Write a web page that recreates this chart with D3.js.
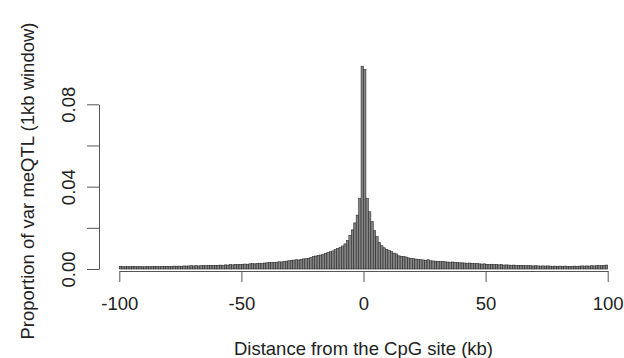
<!DOCTYPE html>
<html>
<head>
<meta charset="utf-8">
<script src="https://cdn.jsdelivr.net/npm/d3@7"></script>
<style>
  html, body { margin: 0; padding: 0; background: #fff; }
  svg { display: block; }
  text { font-family: "Liberation Sans", Arial, sans-serif; fill: #222; }
</style>
</head>
<body>
<svg id="chart" width="624" height="358"></svg>
<script>
// 1kb windows: left edges from -100 kb to +99 kb
const binStarts = d3.range(-100, 100);

// Proportion of var meQTL per window, upstream side (-100 .. -1)
const upstream = [
  0.0013, 0.0012, 0.0011, 0.0012, 0.0011, 0.0012, 0.0013, 0.0011, 0.0012, 0.0011,
  0.0011, 0.0012, 0.0011, 0.0012, 0.0013, 0.0012, 0.0011, 0.0013, 0.0012, 0.0013,
  0.0012, 0.0013, 0.0014, 0.0013, 0.0014, 0.0013, 0.0015, 0.0014, 0.0015, 0.0016,
  0.0015, 0.0016, 0.0015, 0.0016, 0.0017, 0.0016, 0.0017, 0.0018, 0.0017, 0.0018,
  0.0018, 0.0019, 0.0018, 0.0020, 0.0019, 0.0021, 0.0020, 0.0022, 0.0021, 0.0022,
  0.0023, 0.0024, 0.0023, 0.0025, 0.0026, 0.0025, 0.0027, 0.0028, 0.0027, 0.0029,
  0.0030, 0.0031, 0.0032, 0.0031, 0.0033, 0.0035, 0.0034, 0.0037, 0.0038, 0.0040,
  0.0042, 0.0043, 0.0045, 0.0044, 0.0047, 0.0049, 0.0050, 0.0052, 0.0056, 0.0060,
  0.0063, 0.0066, 0.0068, 0.0072, 0.0076, 0.0080, 0.0084, 0.0088, 0.0094, 0.0099,
  0.0105, 0.0112, 0.0122, 0.0138, 0.0163, 0.0190, 0.0224, 0.0262, 0.0342, 0.0985
];

// Downstream side (0 .. +99)
const downstream = [
  0.0970, 0.0342, 0.0278, 0.0230, 0.0186, 0.0157, 0.0128, 0.0113, 0.0103, 0.0095,
  0.0089, 0.0084, 0.0077, 0.0073, 0.0064, 0.0061, 0.0060, 0.0058, 0.0054, 0.0052,
  0.0050, 0.0048, 0.0047, 0.0045, 0.0044, 0.0042, 0.0045, 0.0040, 0.0039, 0.0038,
  0.0037, 0.0036, 0.0036, 0.0035, 0.0034, 0.0033, 0.0034, 0.0032, 0.0031, 0.0030,
  0.0030, 0.0029, 0.0028, 0.0029, 0.0027, 0.0026, 0.0027, 0.0025, 0.0024, 0.0025,
  0.0023, 0.0022, 0.0023, 0.0021, 0.0022, 0.0020, 0.0021, 0.0019, 0.0020, 0.0019,
  0.0018, 0.0019, 0.0018, 0.0017, 0.0018, 0.0017, 0.0016, 0.0017, 0.0016, 0.0015,
  0.0016, 0.0015, 0.0014, 0.0015, 0.0014, 0.0015, 0.0014, 0.0013, 0.0014, 0.0013,
  0.0014, 0.0013, 0.0014, 0.0013, 0.0012, 0.0013, 0.0014, 0.0013, 0.0014, 0.0015,
  0.0014, 0.0015, 0.0014, 0.0016, 0.0015, 0.0016, 0.0017, 0.0016, 0.0018, 0.0019
];

const xTicks = [-100, -50, 0, 50, 100];
const xTickLabels = ["-100", "-50", "0", "50", "100"];
const yTicks = [0, 0.02, 0.04, 0.06, 0.08];
const yTickLabels = ["0.00", "", "0.04", "", "0.08"];

const xTitle = "Distance from the CpG site (kb)";
const yTitle = "Proportion of var meQTL (1kb window)";

const proportions = upstream.concat(downstream);
const bins = binStarts.map((s, i) => ({ start: s, value: proportions[i] }));

const svg = d3.select("#chart");

const x = d3.scaleLinear().domain([-100, 100]).range([119.3, 607.7]);
const y = d3.scaleLinear().domain([0, 0.08]).range([269, 104.3]);

// bars
svg.append("g")
  .selectAll("rect")
  .data(bins)
  .join("rect")
  .attr("x", d => x(d.start))
  .attr("width", d => x(d.start + 1) - x(d.start))
  .attr("y", d => y(d.value))
  .attr("height", d => y(0) - y(d.value))
  .attr("fill", "#858585")
  .attr("stroke", "#2a2a2a")
  .attr("stroke-width", 0.6);

// x axis
const xAxis = svg.append("g")
  .attr("transform", "translate(0,271)")
  .call(d3.axisBottom(x).tickValues(xTicks).tickSize(11).tickSizeOuter(0).tickPadding(0)
    .tickFormat((d, i) => xTickLabels[i]));
xAxis.selectAll("path, line").attr("stroke", "#555").attr("stroke-width", 1);
xAxis.selectAll("text")
  .attr("y", 39).attr("dy", null)
  .style("font-size", "18.5px")
  .style("font-family", "'Liberation Sans', Arial, sans-serif")
  .attr("fill", "#222");

// y axis
const yAxis = svg.append("g")
  .attr("transform", "translate(99,0)")
  .call(d3.axisLeft(y).tickValues(yTicks).tickSize(12).tickSizeOuter(0)
    .tickFormat((d, i) => yTickLabels[i]));
yAxis.selectAll("path, line").attr("stroke", "#555").attr("stroke-width", 1);
yAxis.selectAll("text")
  .attr("x", null).attr("dy", null)
  .attr("text-anchor", "middle")
  .attr("transform", "translate(-24,0) rotate(-90)")
  .style("font-size", "18.5px")
  .style("font-family", "'Liberation Sans', Arial, sans-serif")
  .attr("fill", "#222");

// axis titles
svg.append("text")
  .attr("x", 363.5).attr("y", 355)
  .attr("text-anchor", "middle")
  .style("font-size", "18.5px")
  .text(xTitle);

svg.append("text")
  .attr("transform", "translate(34,181) rotate(-90)")
  .attr("text-anchor", "middle")
  .style("font-size", "18.5px")
  .text(yTitle);
</script>
</body>
</html>
